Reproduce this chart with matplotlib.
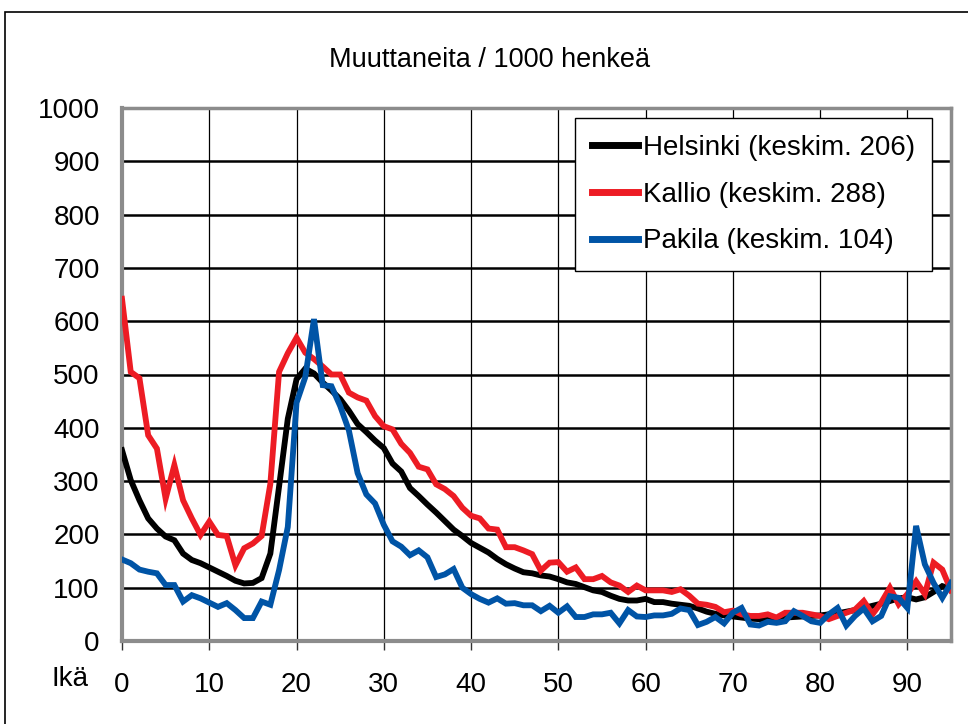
import matplotlib
matplotlib.use("Agg")
import matplotlib.pyplot as plt
from matplotlib.patches import Rectangle

plt.rcParams["font.family"] = ["Liberation Sans", "DejaVu Sans"]

AGES = list(range(0, 96))

# Helsinki (black)
HELSINKI = [358, 302, 264, 230, 211, 196, 189, 164, 152, 146,
            138, 130, 122, 113, 108, 109, 118, 164, 290, 417,
            491, 511, 502, 485, 470, 454, 432, 407, 392, 376,
            362, 333, 318, 287, 272, 256, 241, 225, 209, 197,
            184, 175, 166, 154, 144, 136, 129, 127, 123, 121,
            116, 110, 107, 101, 95, 92, 85, 79, 76, 76,
            79, 73, 73, 70, 68, 66, 61, 55, 51, 48,
            46, 44, 42, 41, 42, 43, 44, 45, 46, 47,
            48, 50, 52, 55, 58, 62, 66, 70, 75, 80,
            82, 78, 82, 92, 103, 98]

# Kallio (red)
KALLIO = [642, 505, 493, 386, 361, 267, 330, 264, 230, 199,
          224, 199, 197, 142, 174, 183, 197, 295, 505, 540,
          569, 541, 529, 515, 500, 500, 466, 457, 451, 422,
          403, 397, 370, 353, 327, 322, 294, 285, 272, 250,
          235, 230, 211, 209, 176, 176, 170, 163, 132, 147,
          148, 130, 138, 116, 116, 122, 110, 104, 92, 104,
          95, 95, 95, 92, 97, 85, 70, 68, 64, 54,
          57, 50, 47, 47, 50, 44, 53, 53, 53, 50,
          47, 41, 47, 53, 59, 75, 50, 72, 100, 69,
          88, 112, 88, 147, 134, 95]

# Pakila (blue)
PAKILA = [153, 146, 134, 130, 127, 105, 105, 74, 86, 80,
          72, 64, 71, 58, 43, 43, 74, 68, 133, 214,
          447, 495, 604, 480, 478, 441, 395, 315, 275, 258,
          218, 187, 177, 161, 170, 157, 120, 125, 135, 100,
          88, 79, 72, 80, 70, 71, 67, 67, 56, 66,
          53, 65, 45, 45, 50, 50, 53, 33, 58, 46,
          45, 48, 48, 51, 61, 58, 30, 36, 45, 33,
          53, 62, 31, 29, 36, 34, 37, 56, 47, 37,
          34, 50, 62, 29, 47, 61, 37, 47, 84, 81,
          62, 216, 144, 109, 81, 109]

LABELS = ["Helsinki (keskim. 206)", "Kallio (keskim. 288)", "Pakila (keskim. 104)"]
COLORS = ["#000000", "#ED1C24", "#0054A6"]
XTICKS = list(range(0, 100, 10))
YTICKS = list(range(0, 1100, 100))

fig = plt.figure(figsize=(9.68, 7.24), dpi=100)
ax = fig.add_axes([122 / 968, 1 - 641 / 724, 829 / 968, 533 / 724])

# outer border of the chart
fig.patches.append(Rectangle((5 / 968, -0.1), 1.2, 1 - 12 / 724 + 0.1,
                             transform=fig.transFigure, fill=False,
                             edgecolor="black", linewidth=1.2))

for y in YTICKS[1:-1]:
    ax.axhline(y, color="black", linewidth=1.8, zorder=1)
for x in XTICKS[1:]:
    ax.axvline(x, color="black", linewidth=0.9, zorder=1)

for data, lab, col in zip([HELSINKI, KALLIO, PAKILA], LABELS, COLORS):
    ax.plot(AGES, data, color=col, linewidth=4.2, label=lab,
            solid_joinstyle="miter", zorder=3)

ax.set_xlim(0, 95)
ax.set_ylim(0, 1000)
ax.set_xticks(XTICKS)
ax.set_yticks(YTICKS)
ax.tick_params(axis="x", labelsize=20, length=6.5, width=1, pad=16, color="#333333")
ax.tick_params(axis="y", labelsize=20, length=0, pad=16)
for s in ax.spines.values():
    s.set_color("#8c8c8c")
    s.set_linewidth(3)
ax.spines["top"].set_linewidth(2.5)
ax.spines["right"].set_linewidth(2.5)

fig.text(490 / 968, 1 - 60 / 724, "Muuttaneita / 1000 henkeä",
         fontsize=19.5, ha="center", va="center")
fig.text(70 / 968, 1 - 679 / 724, "Ikä", fontsize=20, ha="center", va="center")

leg = ax.legend(loc="upper right", bbox_to_anchor=(0.977, 0.981),
                borderaxespad=0, fontsize=20, frameon=True, fancybox=False,
                handlelength=1.65, handletextpad=0.2, labelspacing=0.75,
                borderpad=0.6)
leg.get_frame().set_edgecolor("black")
leg.get_frame().set_linewidth(1)
leg.get_frame().set_alpha(1)
for line in leg.get_lines():
    line.set_linewidth(5)

fig.savefig("out.png", dpi=100)
